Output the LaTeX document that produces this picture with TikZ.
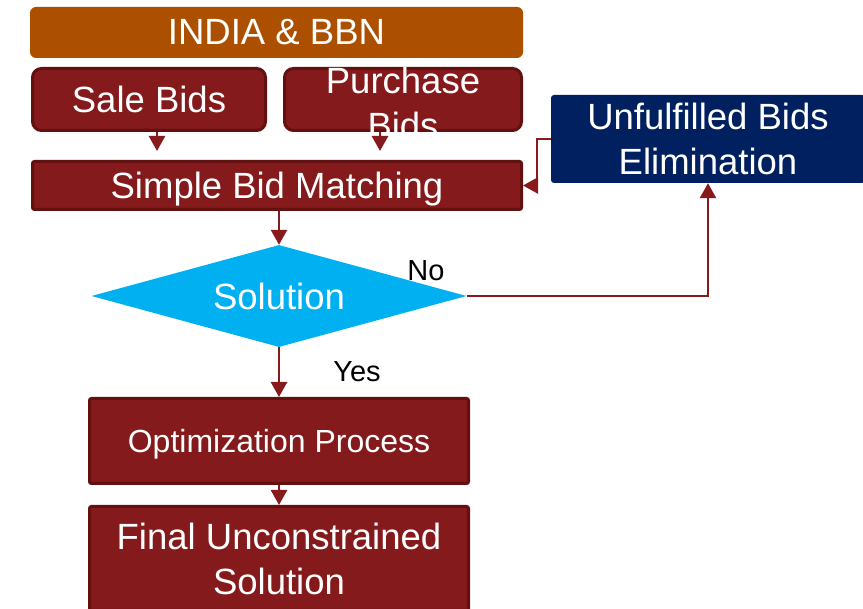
\documentclass[tikz,border=0pt]{standalone}
\usepackage{fontspec}
\setmainfont{Liberation Sans}
\usetikzlibrary{shapes.geometric,arrows.meta}
\definecolor{boxred}{RGB}{132,26,27}
\definecolor{boxedge}{RGB}{98,16,16}
\definecolor{arrred}{RGB}{135,26,26}
\definecolor{hdrorange}{RGB}{172,80,0}
\definecolor{navyfill}{RGB}{0,32,96}
\definecolor{cyanfill}{RGB}{0,176,240}
\begin{document}
\begin{tikzpicture}[x=1pt,y=-1pt,
  big/.style={font=\fontsize{36.5}{45}\selectfont, text=white, align=center},
  redbox/.style={draw=boxedge, line width=3pt, fill=boxred, big, inner sep=0pt},
  nodepth/.style={text depth=0pt},
  lbl/.style={font=\fontsize{29}{34}\selectfont, text=black, inner sep=0pt},
  arr/.style={draw=arrred, line width=2.5pt, -{Triangle[width=16pt,length=15pt]}}]
\useasboundingbox (0,0) rectangle (863,609);

\node[fill=hdrorange, rounded corners=6pt, big, inner sep=0pt,
      minimum width=493pt, minimum height=51pt] (india) at (276.5,32.5) {INDIA \& BBN};

\node[redbox, rounded corners=9pt, minimum width=233pt, minimum height=62pt]
      (sale) at (149,99.5) {Sale Bids};
\node[redbox, rounded corners=9pt, minimum width=237pt, minimum height=62pt]
      (purch) at (403,99.5) {};
\begin{scope}
  \clip (purch.south west) rectangle (purch.north east);
  \node[big, inner sep=0pt] (purchtext) at ([yshift=-3.9pt]purch.center) {Purchase\\Bids};
\end{scope}

\node[redbox, nodepth, rounded corners=2pt, minimum width=489pt, minimum height=48pt]
      (sbm) at (277,185.5) {Simple Bid Matching};

\node[fill=navyfill, rounded corners=3pt, big, inner sep=0pt,
      minimum width=314pt, minimum height=88pt] (unf) at (708,139) {Unfulfilled Bids\\Elimination};

\node[diamond, fill=cyanfill, aspect=3.7, inner sep=0pt, big,
      minimum width=375pt, minimum height=102pt] (dia) at (279,296) {Solution};

\node[redbox, nodepth, font=\fontsize{32}{38}\selectfont, rounded corners=2pt,
      minimum width=379pt, minimum height=85pt] (opt) at (279,441) {Optimization Process};

\node[redbox, rounded corners=2pt, minimum width=379pt, minimum height=104pt]
      (fin) at (279,558.5) {Final Unconstrained\\Solution};

\node[lbl] (no) at (426,271) {No};
\node[lbl] (yes) at (357,372) {Yes};

\draw[arr, shorten >=9pt] ([xshift=8pt]sale.south) -- ([xshift=8pt]sale.south |- sbm.north);
\draw[arr, shorten >=9pt] ([xshift=-23pt]purch.south) -- ([xshift=-23pt]purch.south |- sbm.north);
\draw[arr] (dia.north |- sbm.south) -- (dia.north);
\draw[arr] (unf.west) -- ++(-14,0) |- (sbm.east);
\draw[arr] (dia.east) -| (unf.south);
\draw[arr] (dia.south) -- (dia.south |- opt.north);
\draw[arr] (opt.south) -- (fin.north);
\end{tikzpicture}
\end{document}
